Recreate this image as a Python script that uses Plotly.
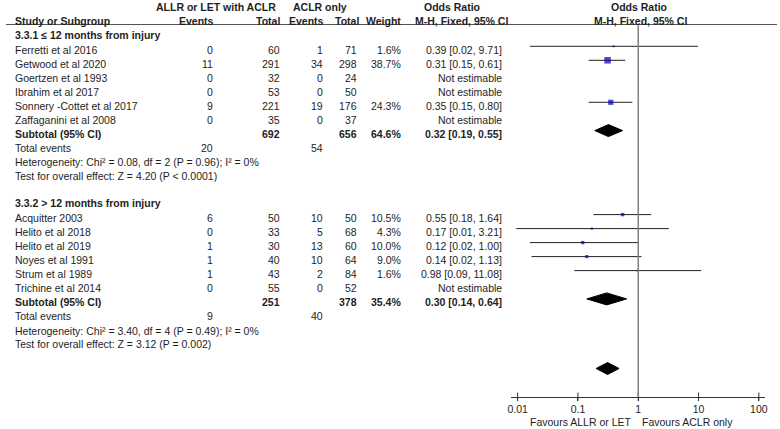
import plotly.graph_objects as go

# ---------------- data ----------------
group_titles = ["3.3.1 \u2264 12 months from injury", "3.3.2 > 12 months from injury"]

g1_names = ["Ferretti et al 2016", "Getwood et al 2020", "Goertzen et al 1993",
            "Ibrahim et al 2017", "Sonnery -Cottet et al 2017", "Zaffaganini et al 2008"]
g1_exp_events = [0, 11, 0, 0, 9, 0]
g1_exp_total = [60, 291, 32, 53, 221, 35]
g1_ctl_events = [1, 34, 0, 0, 19, 0]
g1_ctl_total = [71, 298, 24, 50, 176, 37]
g1_weight = [1.6, 38.7, None, None, 24.3, None]
g1_or = [0.39, 0.31, None, None, 0.35, None]
g1_lo = [0.016, 0.15, None, None, 0.15, None]
g1_hi = [9.71, 0.61, None, None, 0.80, None]

g2_names = ["Acquitter 2003", "Helito et al 2018", "Helito et al 2019",
            "Noyes et al 1991", "Strum et al 1989", "Trichine et al 2014"]
g2_exp_events = [6, 0, 1, 1, 1, 0]
g2_exp_total = [50, 33, 30, 40, 43, 55]
g2_ctl_events = [10, 5, 13, 10, 2, 0]
g2_ctl_total = [50, 68, 60, 64, 84, 52]
g2_weight = [10.5, 4.3, 10.0, 9.0, 1.6, None]
g2_or = [0.55, 0.17, 0.12, 0.14, 0.98, None]
g2_lo = [0.18, 0.0095, 0.016, 0.017, 0.087, None]
g2_hi = [1.64, 3.21, 1.00, 1.13, 11.08, None]

sub_or = [0.32, 0.30]
sub_lo = [0.19, 0.14]
sub_hi = [0.55, 0.64]
sub_weight = [64.6, 35.4]
het_chi2 = [0.08, 3.40]
het_df = [2, 4]
het_p = [0.96, 0.49]
het_i2 = [0, 0]
eff_z = [4.20, 3.12]
eff_p = ["P < 0.0001", "P = 0.002"]

overall_or = 0.31
overall_lo = 0.20
overall_hi = 0.48

tick_vals = [0.01, 0.1, 1, 10, 100]
tick_text = ["0.01", "0.1", "1", "10", "100"]
favours_left = "Favours ALLR or LET"
favours_right = "Favours ACLR only"

groups = [
    dict(names=g1_names, ee=g1_exp_events, et=g1_exp_total, ce=g1_ctl_events, ct=g1_ctl_total,
         w=g1_weight, orr=g1_or, lo=g1_lo, hi=g1_hi),
    dict(names=g2_names, ee=g2_exp_events, et=g2_exp_total, ce=g2_ctl_events, ct=g2_ctl_total,
         w=g2_weight, orr=g2_or, lo=g2_lo, hi=g2_hi),
]

# ---------------- layout helpers ----------------
W, H = 780, 429
FONT = "Liberation Sans, Arial, sans-serif"
TXT = "#1e1e1e"
FS = 10.5

annotations = []


def txt(x, y, s, anchor="left", bold=False, size=FS):
    if bold:
        s = "<b>" + s + "</b>"
    annotations.append(dict(x=x / W, y=1 - y / H, xref="paper", yref="paper", text=s,
                            showarrow=False, xanchor=anchor, yanchor="middle",
                            borderpad=0, borderwidth=0,
                            font=dict(family=FONT, size=size, color=TXT)))


# column x positions (pixels)
X_NAME = 11
X_EE = 210.5
X_ET = 279
X_CE = 321.5
X_CT = 356.5
X_W = 401
X_OR = 502.5

# headers
txt(213.7, 7, "ALLR or LET with ACLR", "center", True)
txt(319, 7, "ACLR only", "center", True)
txt(452.5, 7, "Odds Ratio", "center", True)
txt(640.3, 7, "Odds Ratio", "center", True)
txt(X_NAME, 20.7, "Study or Subgroup", "left", True)
txt(X_EE + 1, 20.7, "Events", "right", True)
txt(X_ET, 20.7, "Total", "right", True)
txt(X_CE + 1.5, 20.7, "Events", "right", True)
txt(X_CT + 1.5, 20.7, "Total", "right", True)
txt(X_W, 20.7, "Weight", "right", True)
txt(461.4, 20.7, "M-H, Fixed, 95% CI", "center", True)
txt(641.8, 20.7, "M-H, Fixed, 95% CI", "center", True)

fig = go.Figure()

MARK_DY = -3.7
DIA_DY = -3.0
DIA_H = 6.0

for gi, g in enumerate(groups):
    b = 0 if gi == 0 else 168.3
    txt(X_NAME, b + 34.5, group_titles[gi], "left", True)
    ci_x, ci_y = [], []
    mx, my, ms = [], [], []
    for i, name in enumerate(g["names"]):
        y = b + 50 + 14 * i
        txt(X_NAME, y, name)
        txt(X_EE, y, str(g["ee"][i]), "right")
        txt(X_ET, y, str(g["et"][i]), "right")
        txt(X_CE, y, str(g["ce"][i]), "right")
        txt(X_CT, y, str(g["ct"][i]), "right")
        if g["w"][i] is not None:
            txt(X_W, y, f"{g['w'][i]:.1f}%", "right")
            txt(X_OR, y, f"{g['orr'][i]:.2f} [{g['lo'][i]:.2f}, {g['hi'][i]:.2f}]", "right")
            ci_x += [g["lo"][i], g["hi"][i], None]
            ci_y += [y + MARK_DY, y + MARK_DY, None]
            mx.append(g["orr"][i])
            my.append(y + MARK_DY)
            ms.append(max(2.0, 1.05 * g["w"][i] ** 0.5))
        else:
            txt(X_OR, y, "Not estimable", "right")
    # CI lines
    fig.add_trace(go.Scatter(x=ci_x, y=ci_y, mode="lines", xaxis="x2", yaxis="y2",
                             line=dict(color="#222222", width=1), hoverinfo="skip",
                             showlegend=False, cliponaxis=False))
    fig.add_trace(go.Scatter(x=mx, y=my, mode="markers", xaxis="x2", yaxis="y2",
                             marker=dict(symbol="square", size=ms, color="#0000A8",
                                         line=dict(width=0)),
                             showlegend=False, cliponaxis=False))
    # subtotal
    ys = b + 133.6
    txt(X_NAME, ys, "Subtotal (95% CI)", "left", True)
    txt(X_ET, ys, str(sum(g["et"])), "right", True)
    txt(X_CT, ys, str(sum(g["ct"])), "right", True)
    txt(X_W, ys, f"{sub_weight[gi]:.1f}%", "right", True)
    txt(X_OR, ys, f"{sub_or[gi]:.2f} [{sub_lo[gi]:.2f}, {sub_hi[gi]:.2f}]", "right", True)
    yd = ys + DIA_DY
    fig.add_trace(go.Scatter(x=[sub_lo[gi], sub_or[gi], sub_hi[gi], sub_or[gi], sub_lo[gi]],
                             y=[yd, yd - DIA_H, yd, yd + DIA_H, yd], mode="lines",
                             fill="toself", fillcolor="black", line=dict(color="black", width=1),
                             xaxis="x2", yaxis="y2", showlegend=False, hoverinfo="skip"))
    yt = b + 148
    txt(X_NAME, yt, "Total events")
    txt(X_EE, yt, str(sum(g["ee"])), "right")
    txt(X_CE, yt, str(sum(g["ce"])), "right")
    txt(X_NAME, b + 162.3,
        f"Heterogeneity: Chi\u00b2 = {het_chi2[gi]:.2f}, df = {het_df[gi]} (P = {het_p[gi]:.2f}); I\u00b2 = {het_i2[gi]}%")
    txt(X_NAME, b + 176, f"Test for overall effect: Z = {eff_z[gi]:.2f} ({eff_p[gi]})")

# overall diamond
yo = 368.5
fig.add_trace(go.Scatter(x=[overall_lo, overall_or, overall_hi, overall_or, overall_lo],
                         y=[yo, yo - DIA_H, yo, yo + DIA_H, yo], mode="lines",
                         fill="toself", fillcolor="black", line=dict(color="black", width=1),
                         xaxis="x2", yaxis="y2", showlegend=False, hoverinfo="skip"))

AXIS_Y = 396.7
TOP_Y = 24.5
# upper half of crossing ticks
fig.add_trace(go.Scatter(x=tick_vals, y=[AXIS_Y] * len(tick_vals), mode="markers",
                         xaxis="x2", yaxis="y2", cliponaxis=False, hoverinfo="skip",
                         marker=dict(symbol="line-ns", size=6, line=dict(color="#333333", width=1)),
                         showlegend=False))

txt(633.5, 421.7, favours_left, "right")
txt(644, 421.7, favours_right, "left")

x_lo_px, x_hi_px = 511.7, 768.0
dec = 60.85
x_range = [-2 - (518.3 - x_lo_px) / dec, 2 + (x_hi_px - 761.7) / dec]

fig.update_layout(
    width=W, height=H, margin=dict(l=0, r=0, t=0, b=0),
    paper_bgcolor="white", plot_bgcolor="rgba(0,0,0,0)",
    showlegend=False,
    xaxis=dict(visible=False, range=[0, W], domain=[0, 1]),
    yaxis=dict(visible=False, range=[H, 0], domain=[0, 1]),
    xaxis2=dict(type="log", domain=[x_lo_px / W, x_hi_px / W], range=x_range, anchor="y2",
                showline=True, linecolor="#333333", linewidth=1, ticks="outside", ticklen=3,
                tickwidth=1, tickcolor="#333333", tickvals=tick_vals, ticktext=tick_text,
                showgrid=False, zeroline=False,
                tickfont=dict(family=FONT, size=FS, color=TXT)),
    yaxis2=dict(domain=[(H - AXIS_Y) / H, (H - TOP_Y) / H], range=[AXIS_Y, TOP_Y],
                visible=False, anchor="x2"),
    annotations=annotations,
    shapes=[
        dict(type="line", xref="paper", yref="paper", x0=2 / W, x1=1,
             y0=1 - TOP_Y / H, y1=1 - TOP_Y / H, line=dict(color="#555555", width=1)),
        dict(type="line", xref="x2", yref="y2", x0=1, x1=1, y0=TOP_Y, y1=AXIS_Y,
             line=dict(color="#808080", width=1.5)),
    ],
)

# remove the browser's default 8px page margin so the figure fills the window exactly
fig.write_html("out.html",
               config={"displayModeBar": False, "staticPlot": True},
               post_script="document.body.style.margin='0';document.body.style.overflow='hidden';")
